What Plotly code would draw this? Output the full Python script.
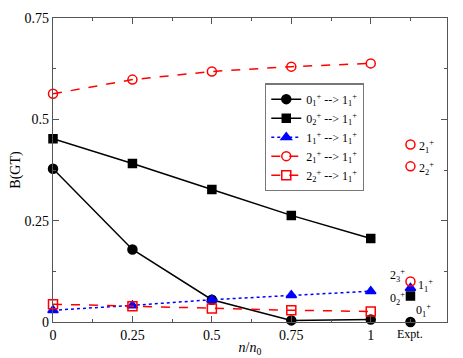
import plotly.graph_objects as go

# density ratio n/n0
dens = [0, 0.25, 0.5, 0.75, 1]

# B(GT) for each transition
b_01 = [0.378, 0.179, 0.055, 0.004, 0.006]
b_02 = [0.452, 0.391, 0.327, 0.263, 0.206]
b_11 = [0.029, 0.041, 0.055, 0.066, 0.076]
b_21 = [0.563, 0.598, 0.618, 0.630, 0.638]
b_22 = [0.044, 0.039, 0.033, 0.029, 0.026]

# experimental values, plotted at a fixed column right of n/n0 = 1
expt_x = 1.125
expt_names = ["0<sub>1</sub><sup>+</sup>", "0<sub>2</sub><sup>+</sup>", "1<sub>1</sub><sup>+</sup>",
              "2<sub>3</sub><sup>+</sup>", "2<sub>1</sub><sup>+</sup>", "2<sub>2</sub><sup>+</sup>"]
expt_vals = [0.0, 0.064, 0.084, 0.100, 0.438, 0.384]

FONT = "Liberation Serif, Times New Roman, serif"


def lab(i, f):
    return f"{i}<sub>{f}</sub><sup>+</sup> --> 1<sub>1</sub><sup>+</sup>"


series = [
    (lab(0, 1), b_01, "black", "solid", "circle", 9),
    (lab(0, 2), b_02, "black", "solid", "square", 8),
    (lab(1, 1), b_11, "blue", "dot", "triangle-up", 9),
    (lab(2, 1), b_21, "red", "dash", "circle-open", 9),
    (lab(2, 2), b_22, "red", "dash", "square-open", 9),
]

fig = go.Figure()
for name, ys, col, dash, sym, sz in series:
    fig.add_trace(go.Scatter(
        x=dens, y=ys, name=name, mode="lines+markers",
        line=dict(color=col, width=1.5, dash=dash),
        marker=dict(symbol=sym, size=sz, color=col, line=dict(color=col, width=1.5)),
        cliponaxis=False,
    ))

# experimental markers
expt_style = [("circle", "black", 9), ("square", "black", 8), ("triangle-up", "blue", 9),
              ("circle-open", "red", 9), ("circle-open", "red", 9), ("circle-open", "red", 9)]
for (sym, col, sz), v in zip(expt_style, expt_vals):
    fig.add_trace(go.Scatter(
        x=[expt_x], y=[v], mode="markers", showlegend=False, cliponaxis=False,
        marker=dict(symbol=sym, size=sz, color=col, line=dict(color=col, width=1.5)),
    ))

# state labels next to the experimental markers (xshift, yshift in px)
shifts = [(13, 12), (-13, -2), (15, 2), (-13, 6), (16, -2), (16, -2)]
for name, v, (dx, dy) in zip(expt_names, expt_vals, shifts):
    fig.add_annotation(x=expt_x, y=v, xref="x", yref="y", text=name, showarrow=False,
                       xshift=dx, yshift=dy, font=dict(family=FONT, size=12, color="black"))

fig.add_annotation(x=expt_x, y=0, xref="x", yref="paper", text="Expt.", showarrow=False,
                   yanchor="top", yshift=-3, font=dict(family=FONT, size=12, color="black"))

axis_common = dict(
    showline=True, linecolor="#555", linewidth=1.3, mirror="allticks",
    ticks="inside", ticklen=6, tickcolor="#555", showgrid=False, zeroline=False,
    automargin=False,
    tickfont=dict(family=FONT, size=14, color="black"),
)

fig.update_xaxes(range=[0, 1.24], tickvals=[0, 0.25, 0.5, 0.75, 1],
                 ticktext=["0", "0.25", "0.5", "0.75", "1"],
                 minor=dict(ticks="inside", ticklen=3, tickcolor="#555", dtick=0.125, tick0=0),
                 title=dict(text="<i>n</i>/<i>n</i><sub>0</sub>", standoff=0,
                            font=dict(family=FONT, size=14, color="black")),
                 **axis_common)
fig.update_yaxes(range=[0, 0.75], tickvals=[0, 0.25, 0.5, 0.75],
                 ticktext=["0", "0.25", "0.5", "0.75"],
                 minor=dict(ticks="inside", ticklen=3, tickcolor="#555", dtick=0.125, tick0=0),
                 title=dict(text="B(GT)", standoff=4,
                            font=dict(family=FONT, size=14, color="black")),
                 **axis_common)

# page body adds an 8px margin, so the figure is sized to fit the window after it
fig.update_layout(
    width=455, height=350,
    margin=dict(l=45, r=16, t=10, b=36),
    paper_bgcolor="white", plot_bgcolor="white",
    font=dict(family=FONT, size=13, color="black"),
    legend=dict(x=0.538, y=0.785, xanchor="left", yanchor="top",
                bgcolor="white", bordercolor="#777", borderwidth=1.3,
                font=dict(family=FONT, size=12, color="black"),
                tracegroupgap=0, itemwidth=30),
)

fig.write_html("out.html")
